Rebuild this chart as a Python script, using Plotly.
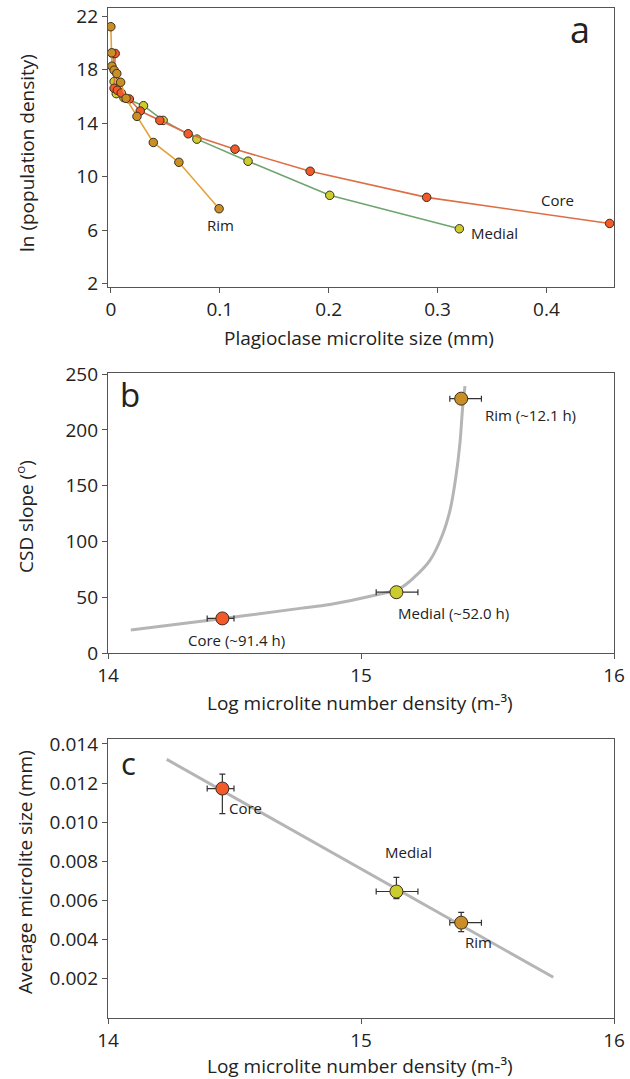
import plotly.graph_objects as go

# ---------------- Panel a data ----------------
core_size = [0.004, 0.003, 0.006, 0.0096, 0.017, 0.027, 0.045, 0.071, 0.114, 0.183, 0.290, 0.458]
core_lnpd = [19.2, 16.6, 16.45, 16.25, 15.8, 14.9, 14.2, 13.2, 12.05, 10.4, 8.45, 6.5]
medial_size = [0.002, 0.003, 0.005, 0.012, 0.030, 0.048, 0.079, 0.126, 0.201, 0.320]
medial_lnpd = [19.2, 17.1, 16.2, 15.9, 15.3, 14.2, 12.8, 11.15, 8.6, 6.1]
rim_size = [0.0, 0.0008, 0.001, 0.003, 0.0055, 0.009, 0.014, 0.024, 0.039, 0.0625, 0.0994]
rim_lnpd = [21.2, 19.25, 18.25, 17.95, 17.7, 17.05, 15.85, 14.5, 12.55, 11.07, 7.6]

# ---------------- Panel b / c data ----------------
zones = ["Core", "Medial", "Rim"]
log_density = [14.452, 15.140, 15.396]
log_density_err_plus = [0.046, 0.085, 0.080]
log_density_err_minus = [0.060, 0.080, 0.045]
csd_slope = [31.0, 54.5, 228.0]
b_labels = ["Core (~91.4 h)", "Medial (~52.0 h)", "Rim (~12.1 h)"]
avg_size = [0.01172, 0.00646, 0.00487]
avg_size_err_plus = [0.00074, 0.00072, 0.00052]
avg_size_err_minus = [0.00128, 0.00036, 0.00046]

# fitted curve (panel b)
curve_b_x = [14.09, 14.456, 14.759, 14.877, 15.05, 15.154, 15.213, 15.273, 15.319, 15.352, 15.375, 15.391, 15.402, 15.411]
curve_b_y = [20.6, 31.0, 40.0, 43.5, 51.5, 58.0, 68.4, 83.3, 104.2, 128.1, 158.0, 187.9, 220.7, 239.2]
# fitted line (panel c)
line_c_x = [14.232, 15.76]
line_c_y = [0.01321, 0.00208]

zone_fill = {"Core": "#F25A2B", "Medial": "#CBCD2E", "Rim": "#C98F26"}
zone_line = {"Core": "#DD6E45", "Medial": "#6FA46F", "Rim": "#E3A23A"}
edge = "#3A2E1E"
FONT = "Open Sans"
TXT = "#222222"

fig = go.Figure()

# Panel a
for name, xs, ys in [("Medial", medial_size, medial_lnpd), ("Core", core_size, core_lnpd), ("Rim", rim_size, rim_lnpd)]:
    fig.add_trace(go.Scatter(
        x=xs, y=ys, mode="lines+markers", name=name, showlegend=False,
        line=dict(color=zone_line[name], width=1.6),
        marker=dict(size=8.5, color=zone_fill[name], line=dict(color=edge, width=1)),
        xaxis="x", yaxis="y"))

# Panel b
fig.add_trace(go.Scatter(x=curve_b_x, y=curve_b_y, mode="lines", line=dict(color="#B5B5B5", width=3, shape="spline"),
                         showlegend=False, xaxis="x2", yaxis="y2", hoverinfo="skip"))
for i, z in enumerate(zones):
    fig.add_trace(go.Scatter(
        x=[log_density[i]], y=[csd_slope[i]], mode="markers", showlegend=False, name=z,
        error_x=dict(type="data", array=[log_density_err_plus[i]], arrayminus=[log_density_err_minus[i]],
                     symmetric=False, color="#333333", thickness=1.2, width=3),
        marker=dict(size=13, color=zone_fill[z], line=dict(color=edge, width=1)),
        xaxis="x2", yaxis="y2"))

# Panel c
fig.add_trace(go.Scatter(x=line_c_x, y=line_c_y, mode="lines", line=dict(color="#B5B5B5", width=3),
                         showlegend=False, xaxis="x3", yaxis="y3", hoverinfo="skip"))
for i, z in enumerate(zones):
    fig.add_trace(go.Scatter(
        x=[log_density[i]], y=[avg_size[i]], mode="markers", showlegend=False, name=z,
        error_x=dict(type="data", array=[log_density_err_plus[i]], arrayminus=[log_density_err_minus[i]],
                     symmetric=False, color="#333333", thickness=1.2, width=3),
        error_y=dict(type="data", array=[avg_size_err_plus[i]], arrayminus=[avg_size_err_minus[i]],
                     symmetric=False, color="#333333", thickness=1.2, width=3),
        marker=dict(size=13, color=zone_fill[z], line=dict(color=edge, width=1)),
        xaxis="x3", yaxis="y3"))

W, H = 630, 1079
xdom = [108 / W, 614 / W]
def ydom(top, bottom):
    return [1 - bottom / H, 1 - top / H]

axis_common = dict(showline=True, mirror=True, linecolor="#555555", linewidth=1.3,
                   ticks="outside", ticklen=5, tickcolor="#555555", tickwidth=1.2,
                   showgrid=False, zeroline=False, automargin=False,
                   tickfont=dict(family=FONT, size=19, color=TXT))

fig.update_layout(
    width=W, height=H, margin=dict(l=0, r=0, t=0, b=0),
    paper_bgcolor="white", plot_bgcolor="white", showlegend=False,
    font=dict(family=FONT, color=TXT),
    xaxis=dict(domain=xdom, range=[-0.0026, 0.462], tickvals=[0, 0.1, 0.2, 0.3, 0.4],
               ticktext=["0", "0.1", "0.2", "0.3", "0.4"], anchor="y", **axis_common),
    yaxis=dict(domain=ydom(8, 287), range=[1.75, 22.6], tickvals=[2, 6, 10, 14, 18, 22], anchor="x", **axis_common),
    xaxis2=dict(domain=xdom, range=[14, 16], tickvals=[14, 15, 16], anchor="y2", **axis_common),
    yaxis2=dict(domain=ydom(373, 653), range=[0, 251], tickvals=[0, 50, 100, 150, 200, 250], anchor="x2", **axis_common),
    xaxis3=dict(domain=xdom, range=[14, 16], tickvals=[14, 15, 16], anchor="y3", **axis_common),
    yaxis3=dict(domain=ydom(739, 1018), range=[0, 0.01425],
                tickvals=[0.002, 0.004, 0.006, 0.008, 0.010, 0.012, 0.014],
                ticktext=["0.002", "0.004", "0.006", "0.008", "0.010", "0.012", "0.014"],
                anchor="x3", **axis_common),
)

ann = []
def data_text(text, x, y, xref, yref, size=15, **kw):
    ann.append(dict(text=text, x=x, y=y, xref=xref, yref=yref, showarrow=False,
                    font=dict(family=FONT, size=size, color=TXT), **kw))

# panel a annotations
data_text("a", 0.431, 21.0, "x", "y", size=36)
data_text("Core", 0.410, 8.27, "x", "y")
data_text("Medial", 0.352, 5.8, "x", "y")
data_text("Rim", 0.1004, 6.4, "x", "y")
# panel b
data_text("b", 14.088, 232, "x2", "y2", size=33)
b_pos = [(14.507, 12.0), (15.365, 36.3), (15.669, 213.4)]
for lab, (px, py) in zip(b_labels, b_pos):
    data_text(lab, px, py, "x2", "y2")
# panel c
data_text("c", 14.08, 0.01301, "x3", "y3", size=31)
c_pos = [(14.544, 0.01075), (15.189, 0.00847), (15.464, 0.00386)]
for lab, (px, py) in zip(zones, c_pos):
    data_text(lab, px, py, "x3", "y3")

# axis titles (placed as paper annotations)
def paper_title(text, xpx, ypx, angle=0):
    ann.append(dict(text=text, x=xpx / W, y=1 - ypx / H, xref="paper", yref="paper",
                    showarrow=False, textangle=angle, xanchor="center", yanchor="middle",
                    font=dict(family=FONT, size=19, color=TXT)))

paper_title("Plagioclase microlite size (mm)", 359, 338)
paper_title("ln (population density)", 27, 153, -90)
paper_title("Log microlite number density (m-³)", 360, 703)
paper_title("CSD slope (<sup>o</sup>)", 25, 517, -90)
paper_title("Log microlite number density (m-³)", 360, 1066)
paper_title("Average microlite size (mm)", 25, 872, -90)

fig.update_layout(annotations=ann)
fig.write_html("out.html", config={"displayModeBar": False},
               post_script="document.body.style.margin='0';document.body.style.overflow='hidden';")
